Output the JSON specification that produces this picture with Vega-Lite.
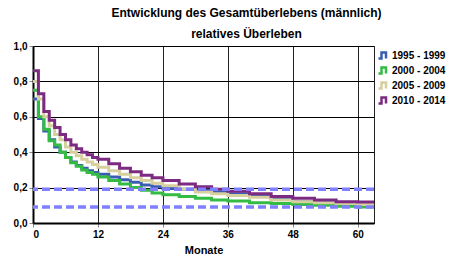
{
  "$schema": "https://vega.github.io/schema/vega-lite/v6.json",
  "width": 341,
  "height": 177,
  "autosize": {"type": "none"},
  "padding": {"left": 33, "top": 46, "right": 91, "bottom": 40},
  "background": "white",
  "config": {
    "font": "Liberation Sans",
    "view": {"stroke": "#222", "strokeWidth": 1}
  },
  "title": {
    "text": "Entwicklung des Gesamtüberlebens (männlich)",
    "subtitle": "relatives Überleben",
    "font": "Liberation Sans",
    "subtitleFont": "Liberation Sans",
    "fontSize": 12,
    "subtitleFontSize": 12,
    "fontWeight": "bold",
    "subtitleFontWeight": "bold",
    "color": "black",
    "subtitleColor": "black",
    "anchor": "middle",
    "dx": 43,
    "offset": 0,
    "subtitlePadding": 9
  },
  "datasets": {
    "curves": [
      {"monat": 0, "v": 0.70, "periode": "1995 - 1999"},
      {"monat": 1, "v": 0.59, "periode": "1995 - 1999"},
      {"monat": 2, "v": 0.52, "periode": "1995 - 1999"},
      {"monat": 3, "v": 0.47, "periode": "1995 - 1999"},
      {"monat": 4, "v": 0.43, "periode": "1995 - 1999"},
      {"monat": 5, "v": 0.40, "periode": "1995 - 1999"},
      {"monat": 6, "v": 0.37, "periode": "1995 - 1999"},
      {"monat": 7, "v": 0.345, "periode": "1995 - 1999"},
      {"monat": 8, "v": 0.325, "periode": "1995 - 1999"},
      {"monat": 9, "v": 0.31, "periode": "1995 - 1999"},
      {"monat": 10, "v": 0.295, "periode": "1995 - 1999"},
      {"monat": 11, "v": 0.285, "periode": "1995 - 1999"},
      {"monat": 12, "v": 0.275, "periode": "1995 - 1999"},
      {"monat": 14, "v": 0.26, "periode": "1995 - 1999"},
      {"monat": 16, "v": 0.245, "periode": "1995 - 1999"},
      {"monat": 18, "v": 0.23, "periode": "1995 - 1999"},
      {"monat": 20, "v": 0.215, "periode": "1995 - 1999"},
      {"monat": 22, "v": 0.205, "periode": "1995 - 1999"},
      {"monat": 24, "v": 0.195, "periode": "1995 - 1999"},
      {"monat": 27, "v": 0.19, "periode": "1995 - 1999"},
      {"monat": 30, "v": 0.185, "periode": "1995 - 1999"},
      {"monat": 33, "v": 0.175, "periode": "1995 - 1999"},
      {"monat": 36, "v": 0.165, "periode": "1995 - 1999"},
      {"monat": 40, "v": 0.15, "periode": "1995 - 1999"},
      {"monat": 44, "v": 0.135, "periode": "1995 - 1999"},
      {"monat": 48, "v": 0.12, "periode": "1995 - 1999"},
      {"monat": 52, "v": 0.115, "periode": "1995 - 1999"},
      {"monat": 56, "v": 0.11, "periode": "1995 - 1999"},
      {"monat": 60, "v": 0.105, "periode": "1995 - 1999"},
      {"monat": 63, "v": 0.10, "periode": "1995 - 1999"},
      {"monat": 0, "v": 0.75, "periode": "2000 - 2004"},
      {"monat": 1, "v": 0.60, "periode": "2000 - 2004"},
      {"monat": 2, "v": 0.53, "periode": "2000 - 2004"},
      {"monat": 3, "v": 0.465, "periode": "2000 - 2004"},
      {"monat": 4, "v": 0.44, "periode": "2000 - 2004"},
      {"monat": 5, "v": 0.40, "periode": "2000 - 2004"},
      {"monat": 6, "v": 0.37, "periode": "2000 - 2004"},
      {"monat": 7, "v": 0.34, "periode": "2000 - 2004"},
      {"monat": 8, "v": 0.32, "periode": "2000 - 2004"},
      {"monat": 9, "v": 0.30, "periode": "2000 - 2004"},
      {"monat": 10, "v": 0.285, "periode": "2000 - 2004"},
      {"monat": 11, "v": 0.275, "periode": "2000 - 2004"},
      {"monat": 12, "v": 0.26, "periode": "2000 - 2004"},
      {"monat": 14, "v": 0.24, "periode": "2000 - 2004"},
      {"monat": 16, "v": 0.22, "periode": "2000 - 2004"},
      {"monat": 18, "v": 0.20, "periode": "2000 - 2004"},
      {"monat": 20, "v": 0.185, "periode": "2000 - 2004"},
      {"monat": 22, "v": 0.17, "periode": "2000 - 2004"},
      {"monat": 24, "v": 0.16, "periode": "2000 - 2004"},
      {"monat": 27, "v": 0.15, "periode": "2000 - 2004"},
      {"monat": 30, "v": 0.14, "periode": "2000 - 2004"},
      {"monat": 33, "v": 0.13, "periode": "2000 - 2004"},
      {"monat": 36, "v": 0.125, "periode": "2000 - 2004"},
      {"monat": 40, "v": 0.115, "periode": "2000 - 2004"},
      {"monat": 44, "v": 0.11, "periode": "2000 - 2004"},
      {"monat": 48, "v": 0.105, "periode": "2000 - 2004"},
      {"monat": 52, "v": 0.10, "periode": "2000 - 2004"},
      {"monat": 56, "v": 0.095, "periode": "2000 - 2004"},
      {"monat": 60, "v": 0.09, "periode": "2000 - 2004"},
      {"monat": 63, "v": 0.09, "periode": "2000 - 2004"},
      {"monat": 0, "v": 0.80, "periode": "2005 - 2009"},
      {"monat": 1, "v": 0.70, "periode": "2005 - 2009"},
      {"monat": 2, "v": 0.60, "periode": "2005 - 2009"},
      {"monat": 3, "v": 0.55, "periode": "2005 - 2009"},
      {"monat": 4, "v": 0.50, "periode": "2005 - 2009"},
      {"monat": 5, "v": 0.47, "periode": "2005 - 2009"},
      {"monat": 6, "v": 0.43, "periode": "2005 - 2009"},
      {"monat": 7, "v": 0.40, "periode": "2005 - 2009"},
      {"monat": 8, "v": 0.38, "periode": "2005 - 2009"},
      {"monat": 9, "v": 0.36, "periode": "2005 - 2009"},
      {"monat": 10, "v": 0.345, "periode": "2005 - 2009"},
      {"monat": 11, "v": 0.33, "periode": "2005 - 2009"},
      {"monat": 12, "v": 0.315, "periode": "2005 - 2009"},
      {"monat": 14, "v": 0.295, "periode": "2005 - 2009"},
      {"monat": 16, "v": 0.275, "periode": "2005 - 2009"},
      {"monat": 18, "v": 0.255, "periode": "2005 - 2009"},
      {"monat": 20, "v": 0.24, "periode": "2005 - 2009"},
      {"monat": 22, "v": 0.225, "periode": "2005 - 2009"},
      {"monat": 24, "v": 0.21, "periode": "2005 - 2009"},
      {"monat": 27, "v": 0.19, "periode": "2005 - 2009"},
      {"monat": 30, "v": 0.175, "periode": "2005 - 2009"},
      {"monat": 33, "v": 0.165, "periode": "2005 - 2009"},
      {"monat": 36, "v": 0.155, "periode": "2005 - 2009"},
      {"monat": 40, "v": 0.145, "periode": "2005 - 2009"},
      {"monat": 44, "v": 0.13, "periode": "2005 - 2009"},
      {"monat": 48, "v": 0.12, "periode": "2005 - 2009"},
      {"monat": 52, "v": 0.115, "periode": "2005 - 2009"},
      {"monat": 56, "v": 0.11, "periode": "2005 - 2009"},
      {"monat": 60, "v": 0.105, "periode": "2005 - 2009"},
      {"monat": 63, "v": 0.105, "periode": "2005 - 2009"},
      {"monat": 0, "v": 0.86, "periode": "2010 - 2014"},
      {"monat": 1, "v": 0.73, "periode": "2010 - 2014"},
      {"monat": 2, "v": 0.63, "periode": "2010 - 2014"},
      {"monat": 3, "v": 0.58, "periode": "2010 - 2014"},
      {"monat": 4, "v": 0.54, "periode": "2010 - 2014"},
      {"monat": 5, "v": 0.50, "periode": "2010 - 2014"},
      {"monat": 6, "v": 0.47, "periode": "2010 - 2014"},
      {"monat": 7, "v": 0.44, "periode": "2010 - 2014"},
      {"monat": 8, "v": 0.42, "periode": "2010 - 2014"},
      {"monat": 9, "v": 0.40, "periode": "2010 - 2014"},
      {"monat": 10, "v": 0.385, "periode": "2010 - 2014"},
      {"monat": 11, "v": 0.37, "periode": "2010 - 2014"},
      {"monat": 12, "v": 0.36, "periode": "2010 - 2014"},
      {"monat": 14, "v": 0.335, "periode": "2010 - 2014"},
      {"monat": 16, "v": 0.31, "periode": "2010 - 2014"},
      {"monat": 18, "v": 0.29, "periode": "2010 - 2014"},
      {"monat": 20, "v": 0.27, "periode": "2010 - 2014"},
      {"monat": 22, "v": 0.255, "periode": "2010 - 2014"},
      {"monat": 24, "v": 0.24, "periode": "2010 - 2014"},
      {"monat": 27, "v": 0.22, "periode": "2010 - 2014"},
      {"monat": 30, "v": 0.205, "periode": "2010 - 2014"},
      {"monat": 33, "v": 0.19, "periode": "2010 - 2014"},
      {"monat": 36, "v": 0.18, "periode": "2010 - 2014"},
      {"monat": 40, "v": 0.165, "periode": "2010 - 2014"},
      {"monat": 44, "v": 0.15, "periode": "2010 - 2014"},
      {"monat": 48, "v": 0.14, "periode": "2010 - 2014"},
      {"monat": 52, "v": 0.13, "periode": "2010 - 2014"},
      {"monat": 56, "v": 0.12, "periode": "2010 - 2014"},
      {"monat": 60, "v": 0.118, "periode": "2010 - 2014"},
      {"monat": 63, "v": 0.115, "periode": "2010 - 2014"}
    ],
    "refs": [
      {"v": 0.19},
      {"v": 0.09}
    ]
  },
  "encoding": {
    "y": {
      "field": "v", "type": "quantitative",
      "scale": {"domain": [0, 1], "nice": false},
      "axis": {
        "title": null,
        "values": [0, 0.2, 0.4, 0.6, 0.8, 1],
        "tickCount": 6,
        "labelOverlap": false,
        "labelSeparation": 0,
        "labelExpr": "replace(format(datum.value, '.1f'), '.', ',')",
        "labelFont": "Liberation Sans", "labelFontSize": 10, "labelFontWeight": "bold", "labelColor": "black",
        "labelPadding": 2,
        "domainColor": "black", "domainWidth": 2,
        "tickColor": "#888", "tickSize": 4,
        "grid": true, "gridColor": "black", "gridWidth": 1
      }
    }
  },
  "layer": [
    {
      "data": {"name": "curves"},
      "mark": {"type": "line", "interpolate": "step-after", "strokeWidth": 3, "clip": true},
      "encoding": {
        "x": {
          "field": "monat", "type": "quantitative",
          "scale": {"domain": [0, 63], "nice": false, "zero": false},
          "axis": {
            "title": "Monate",
            "values": [0, 12, 24, 36, 48, 60],
            "labelOverlap": false,
            "titleFont": "Liberation Sans", "titleFontSize": 11, "titleFontWeight": "bold", "titleColor": "black",
            "labelFont": "Liberation Sans", "labelFontSize": 10, "labelFontWeight": "bold", "labelColor": "black",
            "labelPadding": 2, "titlePadding": 5,
            "domainColor": "black", "domainWidth": 2,
            "tickColor": "#888", "tickSize": 4,
            "grid": true, "gridColor": "#222", "gridWidth": 1
          }
        },
        "color": {
          "field": "periode", "type": "nominal",
          "scale": {
            "domain": ["1995 - 1999", "2000 - 2004", "2005 - 2009", "2010 - 2014"],
            "range": ["#3a5db0", "#33bb44", "#d6cf9e", "#7d2a82"]
          },
          "legend": {
            "title": null,
            "orient": "none",
            "legendX": 344,
            "legendY": 3,
            "labelFont": "Liberation Sans", "labelFontSize": 10, "labelFontWeight": "bold", "labelColor": "black",
            "symbolType": "M-1,0.6 L-0.4,0.6 L-0.4,-0.6 L0.5,-0.6 L0.5,0.6",
            "symbolSize": 100,
            "symbolStrokeWidth": 2.5,
            "symbolFillColor": "transparent",
            "labelOffset": 2,
            "rowPadding": -3
          }
        }
      }
    },
    {
      "data": {"name": "refs"},
      "mark": {"type": "rule", "color": "#8080ff", "strokeWidth": 3.5, "strokeDash": [8, 4]}
    }
  ]
}
